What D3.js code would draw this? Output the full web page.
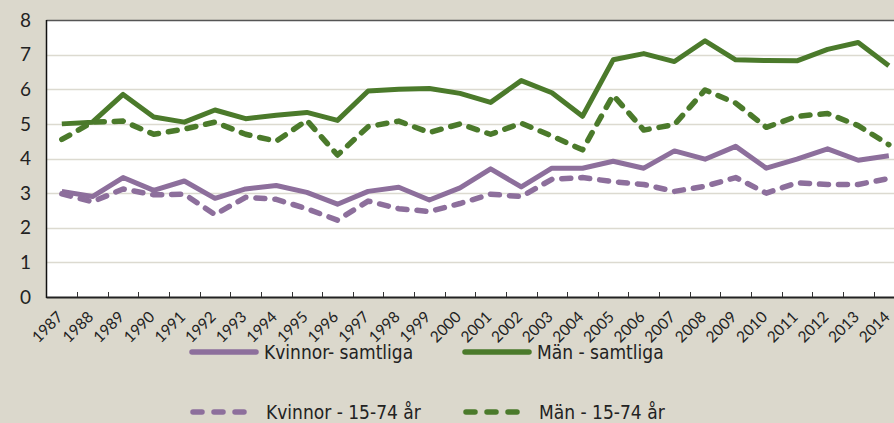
<!DOCTYPE html>
<html>
<head>
<meta charset="utf-8">
<script src="https://cdn.jsdelivr.net/npm/d3@7"></script>
<style>
  html, body { margin: 0; padding: 0; background: #dbd8cc; }
  svg { display: block; }
</style>
</head>
<body>
<svg id="chart" width="894" height="423"></svg>
<script>
// years on the x axis
const years = d3.range(1987, 2015).map(String)

// series
const womenAll = [3.05, 2.9, 3.45, 3.08, 3.35, 2.85, 3.12, 3.22, 3.02, 2.68, 3.05, 3.17, 2.8, 3.15,
    3.7, 3.18, 3.72, 3.72, 3.92, 3.72, 4.22, 3.98, 4.35, 3.72, 3.98, 4.28, 3.95, 4.08]
const menAll = [5.0, 5.05, 5.85, 5.2, 5.05, 5.4, 5.15, 5.25, 5.33, 5.1, 5.95, 6.0, 6.02, 5.88,
    5.62, 6.25, 5.9, 5.22, 6.85, 7.03, 6.8, 7.4, 6.85, 6.83, 6.82, 7.15, 7.35, 6.68]
const women1574 = [2.98, 2.75, 3.12, 2.95, 2.97, 2.38, 2.88, 2.82, 2.55, 2.22, 2.77, 2.55, 2.47, 2.7,
    2.97, 2.9, 3.4, 3.45, 3.33, 3.25, 3.05, 3.2, 3.45, 3.0, 3.3, 3.25, 3.25, 3.42]
const men1574 = [4.55, 5.05, 5.08, 4.7, 4.85, 5.05, 4.7, 4.5, 5.1, 4.1, 4.92, 5.08, 4.75, 5.0,
    4.7, 5.02, 4.65, 4.25, 5.83, 4.82, 4.98, 5.98, 5.6, 4.9, 5.22, 5.3, 4.95, 4.4]

const yTicks = [0, 1, 2, 3, 4, 5, 6, 7, 8]

const seriesNames = ['Kvinnor- samtliga', 'Män - samtliga', 'Kvinnor - 15-74 år', 'Män - 15-74 år']

const purple = '#8d6f9c', green = '#4b7a2b'
const series = [
    {name: seriesNames[0], values: womenAll, color: purple, dashed: false},
    {name: seriesNames[1], values: menAll, color: green, dashed: false},
    {name: seriesNames[2], values: women1574, color: purple, dashed: true},
    {name: seriesNames[3], values: men1574, color: green, dashed: true},
]

const svg = d3.select('#chart')
const fontTick = 'Lato, "DejaVu Sans", sans-serif'
const fontLegend = '"Liberation Sans Narrow", "DejaVu Sans Condensed", Roboto, sans-serif'

// plot area runs off the right edge, like the original
const plotLeft = 46.5, plotTop = 20, plotBottom = 297
const bandW = 30.63
const plotRight = plotLeft + bandW * years.length

const x = d3.scaleBand().domain(years).range([plotLeft, plotRight])
const y = d3.scaleLinear().domain([0, 8]).range([plotBottom, plotTop])

svg.append('rect')
    .attr('x', plotLeft).attr('y', plotTop)
    .attr('width', plotRight - plotLeft).attr('height', plotBottom - plotTop)
    .attr('fill', '#fff')

// gridlines
svg.append('g').selectAll('line').data(yTicks.filter(d => d > 0 && d < 8)).enter().append('line')
    .attr('x1', plotLeft).attr('x2', plotRight)
    .attr('y1', d => Math.round(y(d)) + 0.5).attr('y2', d => Math.round(y(d)) + 0.5)
    .attr('stroke', '#dcdad0').attr('stroke-width', 1.5)

// top border
svg.append('line')
    .attr('x1', plotLeft).attr('x2', plotRight).attr('y1', plotTop + 0.5).attr('y2', plotTop + 0.5)
    .attr('stroke', '#555').attr('stroke-width', 1.5)

// y labels
svg.append('g').selectAll('text').data(yTicks).enter().append('text')
    .attr('x', 31).attr('y', d => y(d))
    .attr('dy', '0.35em')
    .attr('text-anchor', 'end')
    .attr('font-family', fontTick).attr('font-size', 19)
    .attr('fill', '#222')
    .text(d => d)

// lines
const line = d3.line()
    .x((d, i) => x(years[i]) + x.bandwidth() / 2)
    .y(d => y(d))

svg.append('g').selectAll('path').data(series).enter().append('path')
    .attr('d', s => line(s.values))
    .attr('fill', 'none')
    .attr('stroke', s => s.color)
    .attr('stroke-width', s => s.dashed ? 5.5 : 5)
    .attr('stroke-linejoin', 'round')
    .attr('stroke-linecap', s => s.dashed ? 'round' : 'butt')
    .attr('stroke-dasharray', s => s.dashed ? '9,10' : null)

// axes lines
svg.append('line')
    .attr('x1', plotLeft).attr('x2', plotLeft).attr('y1', plotTop).attr('y2', plotBottom + 1)
    .attr('stroke', '#111').attr('stroke-width', 1.5)
svg.append('line')
    .attr('x1', plotLeft).attr('x2', plotRight).attr('y1', plotBottom + 0.5).attr('y2', plotBottom + 0.5)
    .attr('stroke', '#222').attr('stroke-width', 2)

// tick marks at band boundaries, pointing up into the plot
svg.append('g').selectAll('line').data(years.slice(1)).enter().append('line')
    .attr('x1', d => Math.round(x(d)) + 0.5).attr('x2', d => Math.round(x(d)) + 0.5)
    .attr('y1', plotBottom - 5).attr('y2', plotBottom)
    .attr('stroke', '#333').attr('stroke-width', 1)

// x labels, rotated
svg.append('g').selectAll('text').data(years).enter().append('text')
    .attr('transform', d => 'translate(' + [x(d) + x.bandwidth() / 2 + 2, 318] + ') rotate(-45)')
    .attr('text-anchor', 'end')
    .attr('font-family', fontTick).attr('font-size', 15.5)
    .attr('fill', '#222')
    .text(d => d)

// legend
const legendPos = [[190, 352], [463, 352], [190, 412], [463, 412]]
const lg = svg.append('g').selectAll('g').data(series).enter().append('g')
    .attr('transform', (s, i) => 'translate(' + legendPos[i] + ')')

lg.append('line')
    .attr('x1', s => s.dashed ? 3 : 2).attr('x2', s => s.dashed ? 60 : 66)
    .attr('y1', 0).attr('y2', 0)
    .attr('stroke', s => s.color).attr('stroke-width', 5.5)
    .attr('stroke-linecap', 'round')
    .attr('stroke-dasharray', s => s.dashed ? '9,12' : null)

lg.append('text')
    .attr('x', s => s.dashed ? 76 : 74).attr('y', 0).attr('dy', '0.35em')
    .attr('font-family', fontLegend).attr('font-size', 19)
    .attr('fill', '#222')
    .text(s => s.name)
</script>
</body>
</html>
